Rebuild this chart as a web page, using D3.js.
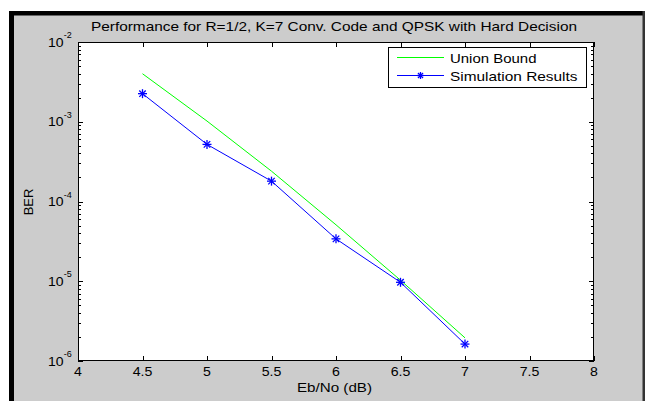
<!DOCTYPE html>
<html>
<head>
<meta charset="utf-8">
<script src="https://cdn.jsdelivr.net/npm/d3@7"></script>
<style>
  html, body { margin: 0; padding: 0; background: #ffffff; }
  svg { display: block; }
  text { font-family: "Liberation Sans", Arial, sans-serif; fill: #000; }
</style>
</head>
<body>
<svg id="chart" width="645" height="401"></svg>
<script>
// ---- data ----
const ebno = [4.5, 5, 5.5, 6, 6.5, 7];
const unionBound = [4.0e-3, 1.02e-3, 2.4e-4, 5.1e-5, 1.03e-5, 1.95e-6];
const simResults = [2.25e-3, 5.2e-4, 1.8e-4, 3.4e-5, 9.7e-6, 1.63e-6];
const xTicks = [4, 4.5, 5, 5.5, 6, 6.5, 7, 7.5, 8];
const yDecades = [-6, -5, -4, -3, -2];
const seriesNames = ["Union Bound", "Simulation Results"];
const titleText = "Performance for R=1/2, K=7 Conv. Code and QPSK with Hard Decision";
const xLabel = "Eb/No (dB)";
const yLabel = "BER";

const svg = d3.select("#chart");
const W = 645, H = 401;
const plot = { left: 78, right: 594, top: 42, bottom: 361 };

// figure background
svg.append("rect").attr("x", 9).attr("y", 11).attr("width", W - 9).attr("height", H - 11).attr("fill", "#cccccc");
svg.append("rect").attr("x", 9).attr("y", 11).attr("width", W - 9).attr("height", 4.5).attr("fill", "#000");
svg.append("rect").attr("x", 9).attr("y", 11).attr("width", 5).attr("height", H - 11).attr("fill", "#000");
svg.append("rect").attr("x", 642.5).attr("y", 11).attr("width", 2.5).attr("height", H - 11).attr("fill", "#333");

const x = d3.scaleLinear().domain([4, 8]).range([plot.left, plot.right]);
const y = d3.scaleLog().domain([1e-6, 1e-2]).range([plot.bottom, plot.top]);

// plot area
svg.append("rect").attr("x", plot.left).attr("y", plot.top)
  .attr("width", plot.right - plot.left).attr("height", plot.bottom - plot.top)
  .attr("fill", "#fff");

const g = svg.append("g");

// ticks (inward, MATLAB style)
const tickG = g.append("g").attr("stroke", "#000").attr("stroke-width", 1).attr("shape-rendering", "crispEdges");
xTicks.forEach(t => {
  const px = Math.round(x(t)) + 0.5;
  tickG.append("line").attr("x1", px).attr("x2", px).attr("y1", plot.bottom).attr("y2", plot.bottom - 5);
  tickG.append("line").attr("x1", px).attr("x2", px).attr("y1", plot.top).attr("y2", plot.top + 5);
});
yDecades.forEach(d => {
  for (let m = 1; m <= 9; m++) {
    const v = m * Math.pow(10, d);
    if (v > 1e-2 + 1e-12) continue;
    const py = Math.round(y(v)) + 0.5;
    const len = m === 1 ? 5 : 3;
    tickG.append("line").attr("x1", plot.left).attr("x2", plot.left + len).attr("y1", py).attr("y2", py);
    tickG.append("line").attr("x1", plot.right).attr("x2", plot.right - len).attr("y1", py).attr("y2", py);
  }
});

// axes box
svg.append("rect").attr("x", plot.left + 0.5).attr("y", plot.top + 0.5)
  .attr("width", plot.right - plot.left - 1).attr("height", plot.bottom - plot.top - 1)
  .attr("fill", "none").attr("stroke", "#000").attr("stroke-width", 1).attr("shape-rendering", "crispEdges");

// x tick labels
xTicks.forEach(t => {
  svg.append("text")
    .attr("transform", `translate(${x(t)},376) scale(1.18,1)`)
    .attr("text-anchor", "middle").attr("font-size", 12).attr("fill", "#111")
    .text(String(t));
});

// y tick labels 10^d
yDecades.forEach(d => {
  const py = y(Math.pow(10, d));
  svg.append("text")
    .attr("transform", `translate(63.5,${py + 4.5}) scale(1.08,1)`)
    .attr("text-anchor", "end").attr("font-size", 13).attr("fill", "#111")
    .text("10");
  svg.append("text")
    .attr("transform", `translate(63.8,${py - 4})`)
    .attr("text-anchor", "start").attr("font-size", 9).attr("fill", "#111")
    .text(String(d));
});

// title
svg.append("text").attr("x", 91).attr("y", 30.5)
  .attr("font-size", 13).attr("textLength", 486).attr("lengthAdjust", "spacingAndGlyphs")
  .attr("fill", "#111").text(titleText);

// axis labels
svg.append("text").attr("x", 297).attr("y", 392)
  .attr("font-size", 12.5).attr("textLength", 75).attr("lengthAdjust", "spacingAndGlyphs")
  .attr("fill", "#111").text(xLabel);
svg.append("text")
  .attr("transform", "translate(32.8,202) rotate(-90)")
  .attr("text-anchor", "middle").attr("font-size", 13).attr("fill", "#111")
  .text(yLabel);

// lines
const line = d3.line().x(d => x(d[0])).y(d => y(d[1]));
const ubData = ebno.map((e, i) => [e, unionBound[i]]);
const simData = ebno.map((e, i) => [e, simResults[i]]);

g.append("path").datum(ubData).attr("d", line)
  .attr("fill", "none").attr("stroke", "#00ff00").attr("stroke-width", 1);
g.append("path").datum(simData).attr("d", line)
  .attr("fill", "none").attr("stroke", "#0000ff").attr("stroke-width", 1);

function star(sel, cx, cy, r) {
  const s = sel.append("g").attr("stroke", "#0000ff").attr("stroke-width", 1.3);
  const d = r * 0.72;
  s.append("line").attr("x1", cx - r).attr("x2", cx + r).attr("y1", cy).attr("y2", cy);
  s.append("line").attr("x1", cx).attr("x2", cx).attr("y1", cy - r).attr("y2", cy + r);
  s.append("line").attr("x1", cx - d).attr("x2", cx + d).attr("y1", cy - d).attr("y2", cy + d);
  s.append("line").attr("x1", cx - d).attr("x2", cx + d).attr("y1", cy + d).attr("y2", cy - d);
}
simData.forEach(p => star(g, x(p[0]), y(p[1]), 4.5));

// legend
const lg = svg.append("g");
lg.append("rect").attr("x", 388.5).attr("y", 47.5).attr("width", 198).attr("height", 39.5)
  .attr("fill", "#fff").attr("stroke", "#000").attr("stroke-width", 1).attr("shape-rendering", "crispEdges");
lg.append("line").attr("x1", 397).attr("x2", 444).attr("y1", 57.5).attr("y2", 57.5)
  .attr("stroke", "#00ff00").attr("stroke-width", 1);
lg.append("line").attr("x1", 397).attr("x2", 444).attr("y1", 75.5).attr("y2", 75.5)
  .attr("stroke", "#0000ff").attr("stroke-width", 1);
star(lg, 420.5, 75.5, 3.5);
lg.append("text").attr("x", 450).attr("y", 62.5).attr("font-size", 13)
  .attr("textLength", 86.5).attr("lengthAdjust", "spacingAndGlyphs").attr("fill", "#111").text(seriesNames[0]);
lg.append("text").attr("x", 450).attr("y", 80.5).attr("font-size", 13)
  .attr("textLength", 127.5).attr("lengthAdjust", "spacingAndGlyphs").attr("fill", "#111").text(seriesNames[1]);
</script>
</body>
</html>
